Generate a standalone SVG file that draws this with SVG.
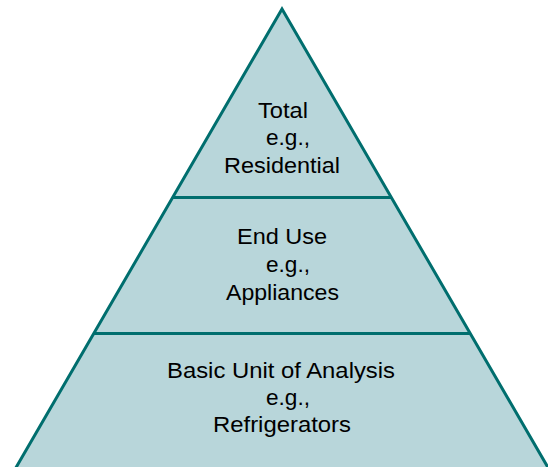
<svg xmlns="http://www.w3.org/2000/svg" width="548" height="467" viewBox="0 0 548 467">
  <style>
    .tier { fill: #b8d6da; stroke: none; }
    .edge { fill: none; stroke: #006e6e; stroke-width: 3; stroke-linejoin: miter; }
    .lbl { font-family: "Liberation Sans", Arial, sans-serif; font-size: 21.5px; fill: #000; text-anchor: middle; }
  </style>
  <rect width="548" height="467" fill="#ffffff"/>

  <!-- pyramid tiers -->
  <g id="tier-total">
    <polygon class="tier" points="282,9 391,197.5 173,197.5"/>
    <text class="lbl" x="283" y="118" textLength="50" lengthAdjust="spacingAndGlyphs">Total</text>
    <text class="lbl" x="288" y="145" textLength="44" lengthAdjust="spacingAndGlyphs">e.g.,</text>
    <text class="lbl" x="282" y="173" textLength="116" lengthAdjust="spacingAndGlyphs">Residential</text>
  </g>
  <g id="tier-end-use">
    <polygon class="tier" points="173,197.5 391,197.5 470,333.5 94,333.5"/>
    <text class="lbl" x="282" y="244" textLength="90" lengthAdjust="spacingAndGlyphs">End Use</text>
    <text class="lbl" x="288" y="272" textLength="44" lengthAdjust="spacingAndGlyphs">e.g.,</text>
    <text class="lbl" x="282.5" y="300" textLength="113" lengthAdjust="spacingAndGlyphs">Appliances</text>
  </g>
  <g id="tier-basic-unit">
    <polygon class="tier" points="94,333.5 470,333.5 550,471 14,471"/>
    <text class="lbl" x="281" y="378" textLength="228" lengthAdjust="spacingAndGlyphs">Basic Unit of Analysis</text>
    <text class="lbl" x="288" y="405" textLength="44" lengthAdjust="spacingAndGlyphs">e.g.,</text>
    <text class="lbl" x="282" y="432" textLength="138" lengthAdjust="spacingAndGlyphs">Refrigerators</text>
  </g>

  <!-- outlines and tier dividers -->
  <g id="connectors">
    <polyline class="edge" points="14,471 282,9 550,471"/>
    <line class="edge" x1="173" y1="197.5" x2="391" y2="197.5"/>
    <line class="edge" x1="94" y1="333.5" x2="470" y2="333.5"/>
  </g>
</svg>
